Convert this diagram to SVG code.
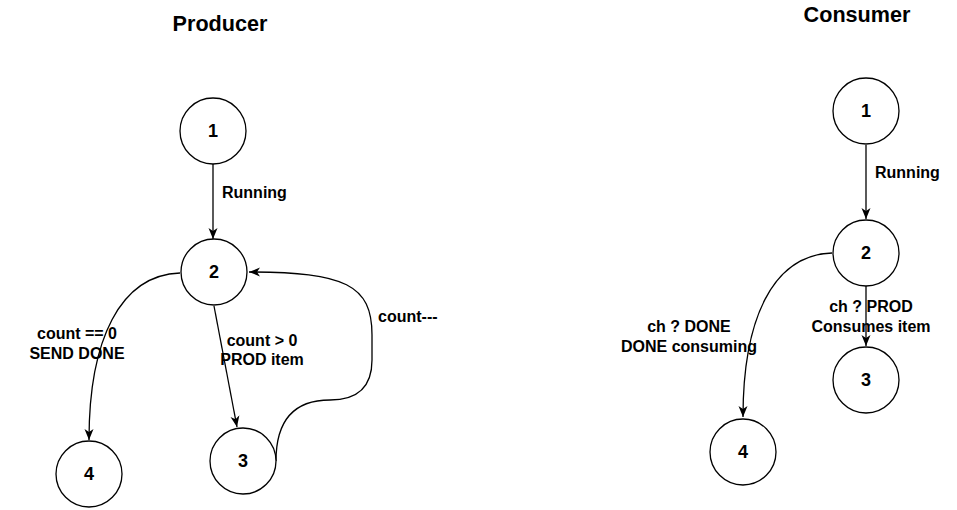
<svg xmlns="http://www.w3.org/2000/svg" width="957" height="510" viewBox="0 0 957 510">
<style>
.n{fill:#fff;stroke:#000;stroke-width:1.3}
.t{font-family:"Liberation Sans",Arial,sans-serif;font-weight:bold;fill:#000}
.nt{font-size:18px;text-anchor:middle;dominant-baseline:central}
.lb{font-size:16px}
.ti{font-size:21.6px;text-anchor:middle}
.e{fill:none;stroke:#000;stroke-width:1.3;marker-end:url(#a)}
</style>
<defs>
<marker id="a" markerUnits="userSpaceOnUse" markerWidth="12" markerHeight="10" viewBox="0 0 12 10" refX="11" refY="5" orient="auto">
<path d="M0,0.5 L11,5 L0,9.5 L3,5 z" fill="#000"/>
</marker>
</defs>
<text class="t ti" x="220" y="31">Producer</text>
<text class="t ti" x="857" y="22">Consumer</text>
<g id="connectors">
<path class="e" d="M213,164 L213,239"/>
<path class="e" d="M180,273 C120,275 89,340 89,440"/>
<path class="e" d="M214,306 L237,427"/>
<path class="e" d="M276,461 C276,425 290,400 330,400 C360,400 372,385 372,360 L372,335 C372,285 345,272 249,272"/>
<path class="e" d="M866,145 L866,219"/>
<path class="e" d="M866,286 L866,346"/>
<path class="e" d="M832,253 C772,255 743,320 743,417"/>
</g>
<g id="labels">
<text class="t lb" x="222" y="198">Running</text>
<text class="t lb" x="77" y="339" text-anchor="middle">count == 0</text>
<text class="t lb" x="77" y="359" text-anchor="middle">SEND DONE</text>
<text class="t lb" x="262" y="346" text-anchor="middle">count &gt; 0</text>
<text class="t lb" x="262" y="365" text-anchor="middle">PROD item</text>
<text class="t lb" x="378" y="322">count---</text>
<text class="t lb" x="875" y="178">Running</text>
<text class="t lb" x="871" y="312" text-anchor="middle">ch ? PROD</text>
<text class="t lb" x="871" y="332" text-anchor="middle">Consumes item</text>
<text class="t lb" x="689" y="332" text-anchor="middle">ch ? DONE</text>
<text class="t lb" x="689" y="352" text-anchor="middle">DONE consuming</text>
</g>
<g id="p1"><circle class="n" cx="213" cy="131" r="33"/><text class="t nt" x="213" y="131">1</text></g>
<g id="p2"><circle class="n" cx="214" cy="272" r="33"/><text class="t nt" x="214" y="272">2</text></g>
<g id="p3"><circle class="n" cx="243" cy="461" r="33"/><text class="t nt" x="243" y="461">3</text></g>
<g id="p4"><circle class="n" cx="89" cy="474" r="33"/><text class="t nt" x="89" y="474">4</text></g>
<g id="c1"><circle class="n" cx="866" cy="111" r="33"/><text class="t nt" x="866" y="111">1</text></g>
<g id="c2"><circle class="n" cx="866" cy="253" r="33"/><text class="t nt" x="866" y="253">2</text></g>
<g id="c3"><circle class="n" cx="866" cy="380" r="33"/><text class="t nt" x="866" y="380">3</text></g>
<g id="c4"><circle class="n" cx="743" cy="452" r="33"/><text class="t nt" x="743" y="452">4</text></g>
</svg>
